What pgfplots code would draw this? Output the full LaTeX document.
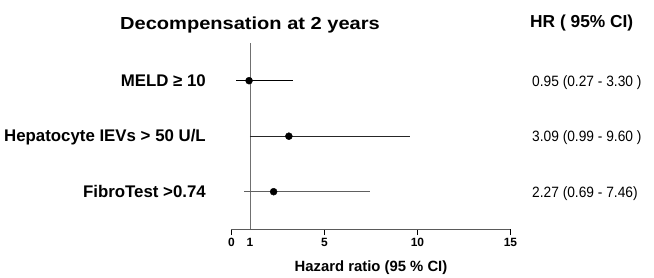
\documentclass[border=0pt]{standalone}
\usepackage{pgfplots}
\pgfplotsset{compat=1.18}
\usepackage{fontspec}
\setmainfont{Liberation Sans}
\usepackage{graphicx}
\definecolor{vline}{HTML}{707070}
\definecolor{axl}{HTML}{5A5A5A}
\definecolor{cig}{HTML}{606060}
\begin{document}
\begin{tikzpicture}[x=1bp,y=1bp]
\path[use as bounding box] (0,0) rectangle (654,277);
\begin{axis}[
  at={(231.4bp,48bp)}, anchor=south west,
  scale only axis, width=279bp, height=186bp,
  xmin=0, xmax=15, ymin=0.328, ymax=3.679,
  axis x line*=bottom, axis y line=none,
  axis line style={axl, line width=0.9bp},
  xtick={0,5,10,15}, extra x ticks={1},
  extra x tick style={major tick style={draw=none}},
  tick align=outside, major tick length=6bp,
  tick style={black, line width=0.9bp},
  ticklabel style={font=\bfseries\fontsize{12}{14}\selectfont},
  /pgf/number format/assume math mode=true,
  clip=false,
]
% reference line at HR = 1
\addplot[vline, line width=0.9bp] coordinates {(1,0.328) (1,3.679)};
% confidence intervals
\addplot[black, line width=0.9bp] coordinates {(0.27,3) (3.30,3)};
\addplot[black!85, line width=0.9bp] coordinates {(0.99,2) (9.60,2)};
\addplot[cig, line width=0.9bp] coordinates {(0.69,1) (7.46,1)};
% point estimates
\addplot[black, only marks, mark=*, mark size=3.5bp] coordinates {(0.95,3) (3.09,2) (2.27,1)};
\end{axis}
\node[anchor=base, inner sep=0] at (250,248) {\scalebox{1.15}[1]{\bfseries\fontsize{17.5}{20}\selectfont Decompensation at 2 years}};
\node[anchor=base west, inner sep=0] at (530,249.3) {\bfseries\fontsize{17.4}{20}\selectfont HR ( 95\% CI)};
\node[anchor=base east, inner sep=0] at (206,190.3) {\bfseries\fontsize{16.9}{19}\selectfont MELD ≥ 10};
\node[anchor=base east, inner sep=0] at (206,135.2) {\bfseries\fontsize{16.9}{19}\selectfont Hepatocyte IEVs > 50 U/L};
\node[anchor=base east, inner sep=0] at (206,79.2) {\bfseries\fontsize{16.9}{19}\selectfont FibroTest >0.74};
\node[anchor=base west, inner sep=0] at (532,190.3) {\scalebox{0.92}[1]{\fontsize{15}{18}\selectfont 0.95 (0.27 - 3.30 )}};
\node[anchor=base west, inner sep=0] at (532,135.2) {\scalebox{0.92}[1]{\fontsize{15}{18}\selectfont 3.09 (0.99 - 9.60 )}};
\node[anchor=base west, inner sep=0] at (532,79.2) {\scalebox{0.92}[1]{\fontsize{15}{18}\selectfont 2.27 (0.69 - 7.46)}};
\node[anchor=base, inner sep=0] at (371,5.3) {\bfseries\fontsize{14.9}{17}\selectfont Hazard ratio (95 \% CI)};
\end{tikzpicture}
\end{document}
